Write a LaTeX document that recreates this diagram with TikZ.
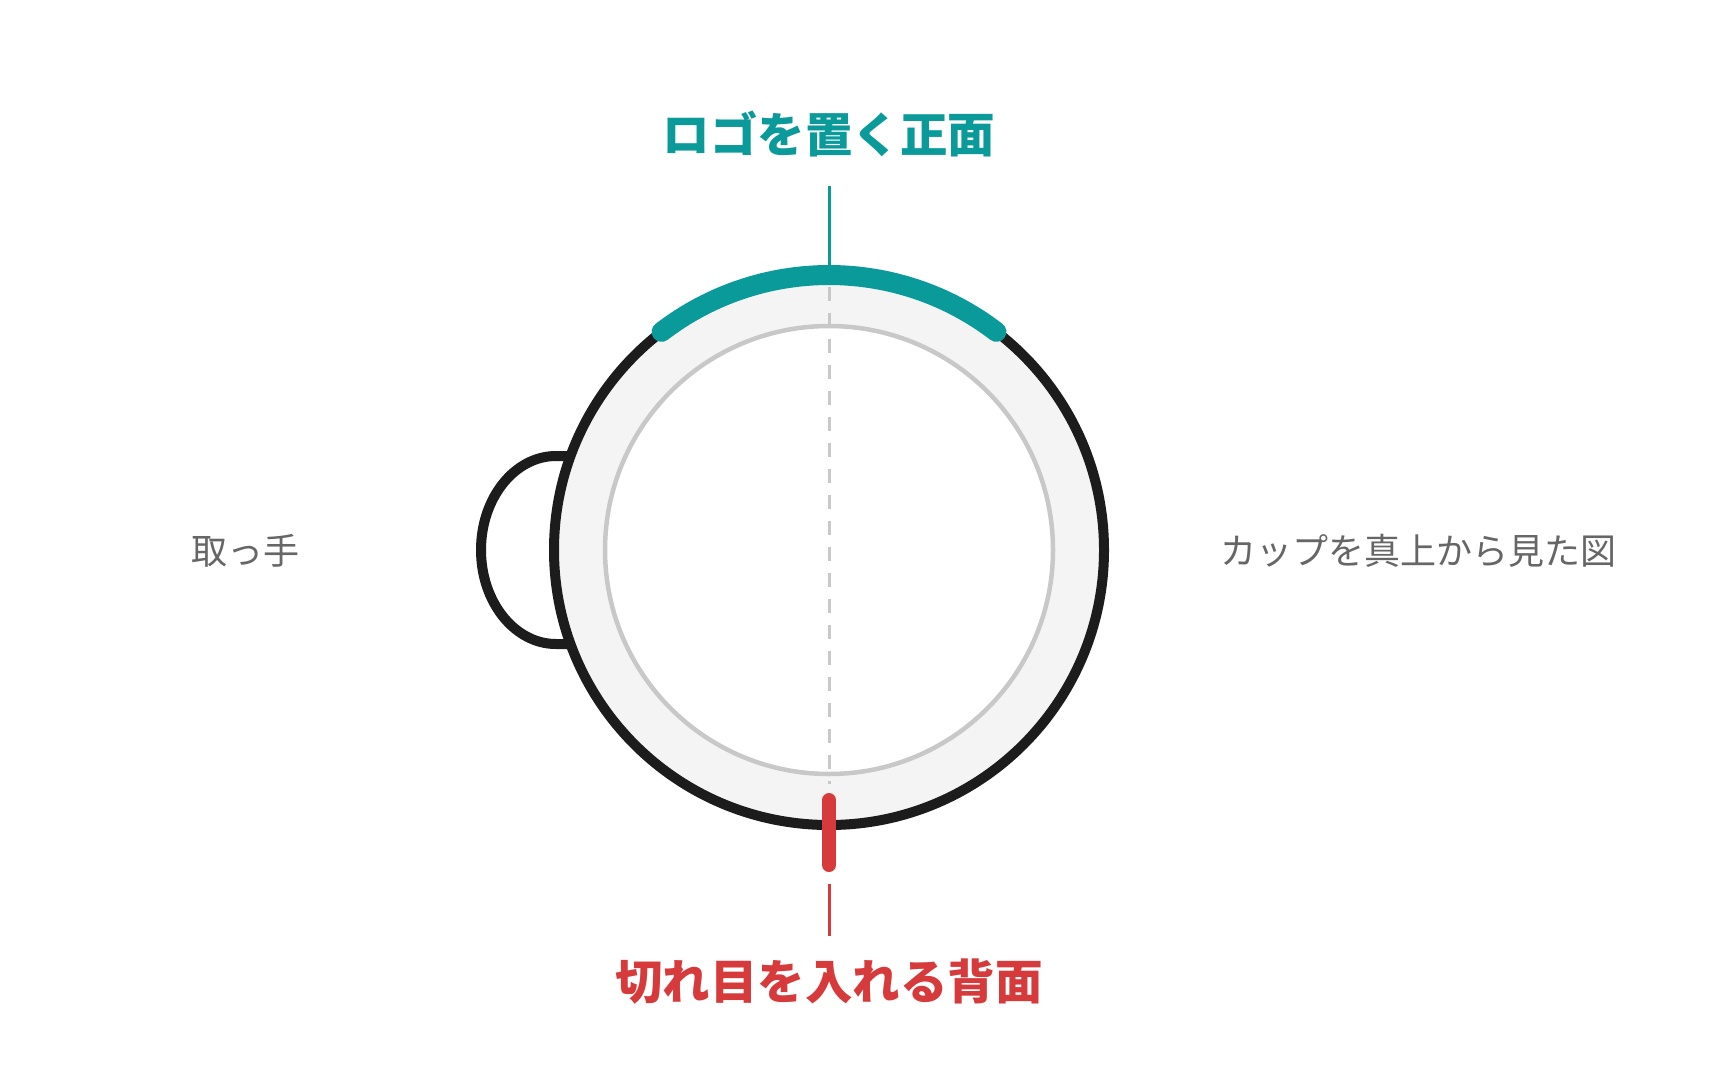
\documentclass[tikz,border=0pt]{standalone}
\usepackage{fontspec}
\newfontfamily\cjk{Noto Sans CJK JP}
\definecolor{teal1}{HTML}{0A9A9A}
\definecolor{red1}{HTML}{D63A3A}
\definecolor{ink}{HTML}{1C1C1C}
\definecolor{ringfill}{HTML}{F4F4F4}
\definecolor{ringline}{HTML}{C8C8C8}
\definecolor{labelgrey}{HTML}{666666}
\tikzset{
  title/.style={font=\cjk\bfseries\fontsize{47.5}{50}\selectfont, inner sep=0pt},
  side/.style={font=\cjk\fontsize{36}{40}\selectfont, text=labelgrey, inner sep=0pt},
}
\begin{document}
\begin{tikzpicture}[x=1pt,y=-1pt]
\useasboundingbox[fill=white] (0,0) rectangle (1720,1076);
\coordinate (c) at (829,550);
% handle
\draw[ink, line width=10pt] (578,456) -- (556,456) arc[start angle=90, end angle=270, x radius=75pt, y radius=94pt] -- (578,644);
% ring
\draw[ink, fill=ringfill, line width=10pt] (c) circle (275pt);
\draw[ringline, fill=white, line width=4.5pt] (c) circle (224pt);
% dashed axis
\coordinate (dtop) at (829,287);
\coordinate (dbot) at (829,784);
\draw[ringline, line width=3pt, dash pattern=on 14pt off 12pt] (dtop) -- (dbot);
% teal arc
\draw[teal1, line width=20pt, line cap=round] ([shift={(127.5:275pt)}]c) arc[start angle=127.5, end angle=52.5, radius=275pt];
\coordinate (ttop) at (829,186);
\coordinate (tbot) at (829,268);
\draw[teal1, line width=3pt] (ttop) -- (tbot);
% red cut
\coordinate (r1) at (829,800);
\coordinate (r2) at (829,865);
\draw[red1, line width=14pt, line cap=round] (r1) -- (r2);
\coordinate (rl1) at (829,884);
\coordinate (rl2) at (829,936);
\draw[red1, line width=3pt] (rl1) -- (rl2);
% labels
\node[title, text=teal1] (front) at (829,134) {ロゴを置く正面};
\node[title, text=red1] (back) at (829,982) {切れ目を入れる背面};
\node[side] (handle) at (245,551) {取っ手};
\node[side] (view) at (1418,551) {カップを真上から見た図};
\end{tikzpicture}
\end{document}
